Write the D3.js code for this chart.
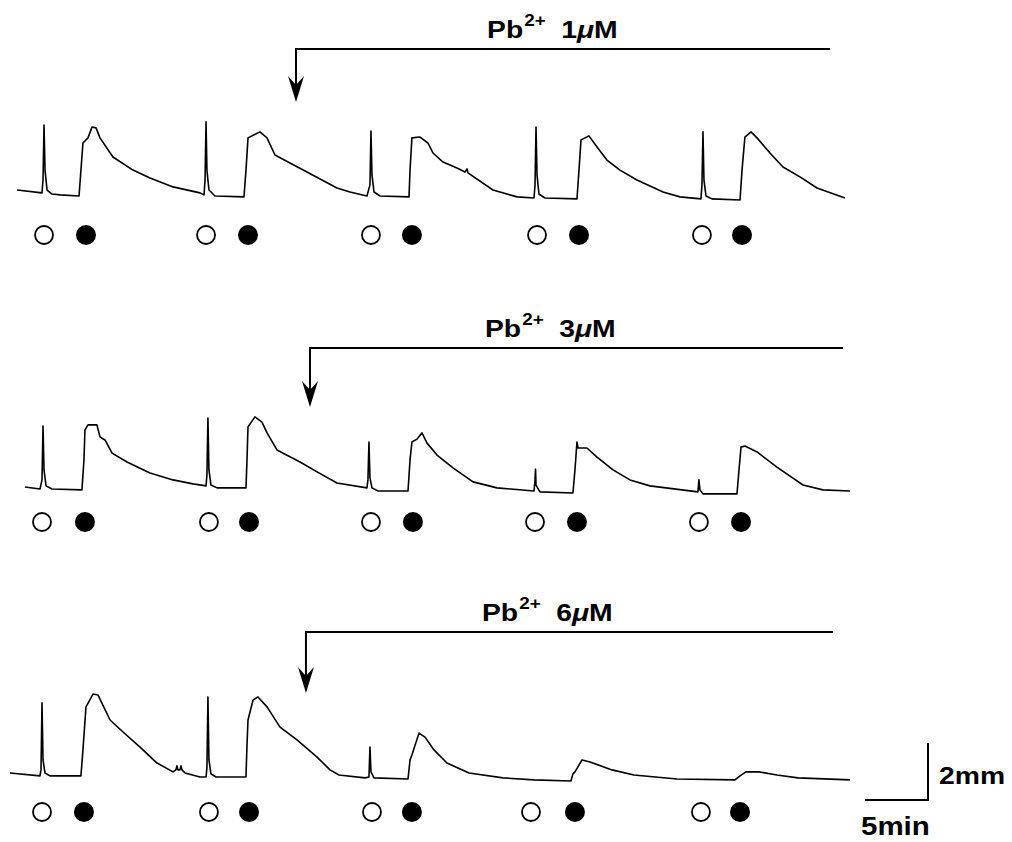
<!DOCTYPE html>
<html>
<head>
<meta charset="utf-8">
<script src="https://cdn.jsdelivr.net/npm/d3@7"></script>
<style>
  body { margin: 0; background: #fff; }
  text { font-family: "Liberation Sans", Arial, sans-serif; font-weight: bold; fill: #000; }
</style>
</head>
<body>
<div id="wrapper"></div>
<script>
// Data: time (min), contraction (mm above baseline)
const trace1 = [
  [0.56,0.35],[2.54,0.25],[2.62,0.70],[2.70,2.63],[2.78,1.05],[2.94,0.35],[3.33,0.21],[3.97,0.18],
  [5.48,0.14],[5.63,1.05],[5.79,2.00],[6.19,2.18],[6.51,2.56],[6.83,2.53],[7.14,2.18],[8.17,1.51],
  [9.76,1.05],[11.11,0.77],[12.94,0.46],[15.08,0.25],[15.40,0.18],[15.48,0.70],[15.56,2.74],[15.63,1.05],
  [15.79,0.35],[16.27,0.14],[18.57,0.11],[18.73,1.05],[18.89,2.18],[19.84,2.39],[20.40,2.18],[21.03,1.58],
  [22.22,1.30],[23.57,0.98],[25.95,0.42],[26.98,0.28],[28.33,0.14],[28.57,0.53],[28.65,2.42],[28.73,0.88],
  [28.89,0.28],[29.37,0.14],[31.67,0.11],[31.75,1.05],[31.90,2.18],[32.54,2.21],[33.17,2.00],[33.57,1.65],
  [34.37,1.33],[35.48,1.12],[36.11,0.98],[36.27,1.09],[36.35,0.95],[38.33,0.35],[40.24,0.11],[41.59,0.07],
  [41.67,0.53],[41.75,2.56],[41.83,0.88],[41.98,0.21],[42.46,0.07],[45.00,0.04],[45.16,1.05],[45.32,2.11],
  [45.95,2.25],[46.59,1.86],[47.38,1.40],[48.41,1.05],[49.76,0.70],[51.83,0.28],[53.17,0.11],[54.84,0.04],
  [54.92,0.53],[55.00,2.39],[55.08,0.70],[55.24,0.14],[55.71,0.04],[57.94,0.00],[58.10,1.05],[58.33,2.21],
  [58.81,2.39],[59.29,2.18],[60.32,1.65],[61.35,1.16],[62.70,0.81],[64.05,0.42],[66.27,0.07]
]
const trace2 = [
  [1.19,0.28],[2.38,0.21],[2.54,0.53],[2.62,2.42],[2.70,0.88],[2.86,0.32],[3.33,0.21],[5.71,0.18],
  [5.87,1.23],[5.95,2.28],[6.19,2.46],[6.90,2.46],[7.14,2.04],[7.54,1.93],[8.10,1.47],[9.29,1.16],
  [11.11,0.77],[12.94,0.53],[14.52,0.39],[15.56,0.32],[15.63,0.70],[15.71,2.70],[15.79,0.88],[15.95,0.35],
  [16.43,0.25],[18.73,0.25],[18.81,1.23],[18.89,2.39],[19.44,2.74],[20.00,2.56],[20.40,2.18],[21.19,1.58],
  [23.02,1.16],[24.37,0.81],[25.95,0.42],[28.33,0.25],[28.41,0.53],[28.49,1.86],[28.57,0.60],[28.73,0.25],
  [29.21,0.14],[31.59,0.14],[31.75,1.23],[31.90,1.86],[32.30,1.96],[32.70,2.18],[33.10,1.82],[33.89,1.40],
  [35.16,0.95],[36.75,0.46],[38.65,0.25],[41.59,0.14],[41.67,0.53],[41.71,0.91],[41.75,0.35],[42.06,0.11],
  [44.68,0.07],[44.84,0.88],[45.00,1.86],[45.08,1.65],[45.79,1.65],[46.59,1.33],[47.86,0.88],[49.21,0.53],
  [50.79,0.32],[54.60,0.11],[54.68,0.53],[54.76,0.18],[55.00,0.04],[57.70,0.04],[57.86,0.88],[58.02,1.68],
  [58.33,1.72],[59.29,1.51],[60.87,0.98],[62.94,0.35],[64.52,0.18],[66.67,0.14]
]
const trace3 = [
  [0.00,0.28],[2.38,0.18],[2.46,0.39],[2.54,2.74],[2.62,0.74],[2.78,0.28],[3.17,0.18],[5.63,0.18],
  [5.79,1.09],[6.03,2.60],[6.59,3.05],[6.98,3.02],[7.94,2.14],[8.97,1.72],[10.32,1.19],[11.67,0.63],
  [12.94,0.32],[13.17,0.39],[13.25,0.53],[13.33,0.39],[13.49,0.39],[13.57,0.53],[13.65,0.39],[13.89,0.28],
  [15.08,0.14],[15.56,0.14],[15.63,0.46],[15.71,2.95],[15.79,0.74],[15.95,0.25],[16.35,0.14],[18.73,0.14],
  [18.81,1.26],[18.89,2.14],[19.29,2.84],[19.68,2.95],[20.40,2.60],[21.43,1.89],[22.78,1.44],[24.37,0.84],
  [25.40,0.39],[26.11,0.21],[28.17,0.11],[28.49,0.14],[28.57,1.19],[28.65,0.32],[28.89,0.11],[31.59,0.07],
  [31.75,0.74],[31.90,0.91],[32.46,1.68],[32.94,1.54],[33.65,1.09],[34.68,0.63],[36.43,0.28],[39.13,0.11],
  [41.59,0.04],[44.52,0.00],[44.68,0.25],[44.84,0.32],[45.40,0.74],[46.03,0.67],[47.78,0.39],[49.52,0.21],
  [52.94,0.07],[57.54,0.04],[57.94,0.18],[58.41,0.32],[59.44,0.32],[60.87,0.21],[62.54,0.11],[66.67,0.04]
]

// stimulus times (min): open = first agonist, filled = second agonist
const openStim = [
  [2.70, 15.56, 28.65, 41.83, 54.92],
  [2.54, 15.79, 28.65, 41.67, 54.68],
  [2.54, 15.79, 28.73, 41.35, 54.84]
]
const filledStim = [
  [6.03, 18.89, 31.90, 45.16, 58.10],
  [5.95, 18.97, 31.98, 45.00, 58.02],
  [5.87, 18.97, 31.90, 44.84, 57.94]
]

// Pb2+ application (min) and concentrations
const pbConc = ["1", "3", "6"]
const pbStart = [22.70, 23.81, 23.49]
const pbEnd = [65.08, 66.11, 65.32]

const traces = [trace1, trace2, trace3]

// Chart dimensions
const dimensions = { width: 1012, height: 842 }
const panels = [
  { base: 200, stim: 35, bar: 151, tip: 98, labelDx: 191 },
  { base: 495, stim: 27, bar: 147, tip: 88, labelDx: 175 },
  { base: 781, stim: 31, bar: 149, tip: 88, labelDx: 176 }
]
const pxPerMm = 28.5
const stretch = 1.18  // the figure's lettering is wider than Arial

const wrapper = d3.select("#wrapper")
  .append("svg")
  .attr("width", dimensions.width)
  .attr("height", dimensions.height)

wrapper.append("rect")
  .attr("width", dimensions.width)
  .attr("height", dimensions.height)
  .attr("fill", "#fff")

// Scales
const xScale = d3.scaleLinear()
  .domain([0, 66.67])
  .range([10, 850])

traces.forEach((trace, i) => {
  const p = panels[i]
  const yScale = d3.scaleLinear()
    .domain([0, 1])
    .range([p.base, p.base - pxPerMm])

  const g = wrapper.append("g")

  const lineGenerator = d3.line()
    .x(d => xScale(d[0]))
    .y(d => yScale(d[1]))

  g.append("path")
    .datum(trace)
    .attr("d", lineGenerator)
    .attr("fill", "none")
    .attr("stroke", "#000")
    .attr("stroke-width", 1.6)
    .attr("stroke-linejoin", "round")

  // stimulus markers
  g.selectAll(".open")
    .data(openStim[i])
    .enter().append("circle")
    .attr("cx", d => xScale(d))
    .attr("cy", p.base + p.stim)
    .attr("r", 9)
    .attr("fill", "#fff")
    .attr("stroke", "#000")
    .attr("stroke-width", 1.8)

  g.selectAll(".filled")
    .data(filledStim[i])
    .enter().append("circle")
    .attr("cx", d => xScale(d))
    .attr("cy", p.base + p.stim)
    .attr("r", 10)
    .attr("fill", "#000")

  // Pb2+ bar and arrow
  const x0 = xScale(pbStart[i])
  const x1 = xScale(pbEnd[i])
  const yBar = p.base - p.bar
  const yTip = p.base - p.tip

  g.append("path")
    .attr("d", `M${x1},${yBar}H${x0}V${yTip - 10}`)
    .attr("fill", "none")
    .attr("stroke", "#000")
    .attr("stroke-width", 2)

  g.append("path")
    .attr("d", `M${x0},${yTip}L${x0 - 8},${yTip - 26}L${x0},${yTip - 17}L${x0 + 8},${yTip - 26}Z`)
    .attr("fill", "#000")

  const label = g.append("text")
    .attr("transform", `translate(${x0 + p.labelDx},${yBar - 11}) scale(${stretch},1)`)
    .style("font-size", "24px")
  label.append("tspan").text("Pb")
  label.append("tspan")
    .attr("dx", 1)
    .attr("dy", -12)
    .style("font-size", "16px")
    .text("2+")
  label.append("tspan")
    .attr("dx", 13)
    .attr("dy", 12)
    .text(pbConc[i])
  label.append("tspan")
    .style("font-style", "italic")
    .text("\u03bc")
  label.append("tspan").text("M")
})

// Scale bar: 5 min x 2 mm
const lastBase = panels[2].base
const sy = d3.scaleLinear().domain([0, 1]).range([lastBase + 19, lastBase + 19 - pxPerMm])
const sx0 = xScale(66.67) + 15
const sx1 = sx0 + (xScale(5) - xScale(0))

wrapper.append("path")
  .attr("d", `M${sx0},${sy(0)}H${sx1}V${sy(2)}`)
  .attr("fill", "none")
  .attr("stroke", "#000")
  .attr("stroke-width", 2)

wrapper.append("text")
  .attr("transform", `translate(${sx1 + 11},${sy(0) - 16}) scale(${stretch},1)`)
  .style("font-size", "24px")
  .text("2mm")

wrapper.append("text")
  .attr("transform", `translate(${sx0 - 4},${sy(0) + 35}) scale(${stretch},1)`)
  .style("font-size", "25px")
  .text("5min")
</script>
</body>
</html>
